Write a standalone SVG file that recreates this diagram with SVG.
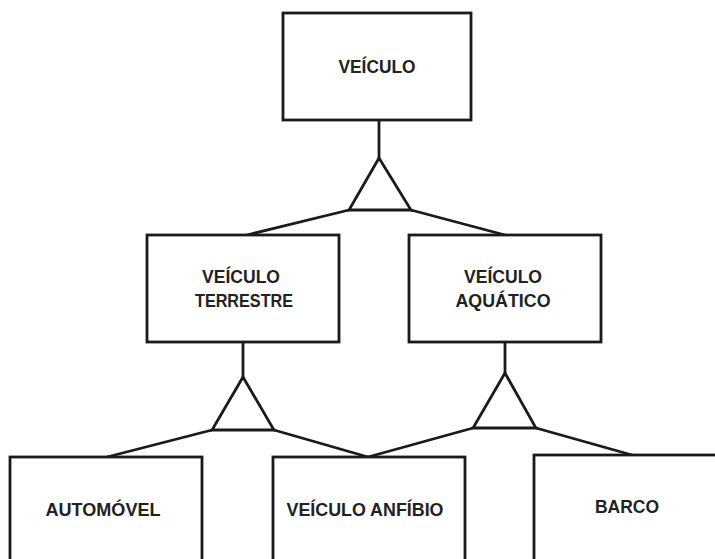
<svg xmlns="http://www.w3.org/2000/svg" width="715" height="559" viewBox="0 0 715 559">
<style>
.box{fill:#fff;stroke:#1a1a1a;stroke-width:2.8}
.ln{fill:none;stroke:#1a1a1a;stroke-width:2.8;stroke-linejoin:miter}
.t{font-family:"Liberation Sans",Arial,sans-serif;font-weight:bold;font-size:18px;fill:#222;text-anchor:middle}
</style>
<rect width="715" height="559" fill="#fff"/>
<g id="connectors">
<line class="ln" x1="379" y1="120" x2="379" y2="158"/>
<polygon class="ln" points="379,158 349,210 411,210"/>
<line class="ln" x1="349" y1="210" x2="247" y2="235"/>
<line class="ln" x1="411" y1="210" x2="505" y2="235"/>
<line class="ln" x1="243" y1="342" x2="243" y2="377"/>
<polygon class="ln" points="243,377 212,430 274,430"/>
<line class="ln" x1="212" y1="430" x2="107" y2="457"/>
<line class="ln" x1="274" y1="430" x2="368" y2="457"/>
<line class="ln" x1="505" y1="342" x2="505" y2="373"/>
<polygon class="ln" points="505,373 473,428 536,428"/>
<line class="ln" x1="473" y1="428" x2="368" y2="457"/>
<line class="ln" x1="536" y1="428" x2="632" y2="455"/>
</g>
<g id="veiculo">
<rect class="box" x="283" y="13" width="188" height="107"/>
<text class="t" x="377" y="73" textLength="77" lengthAdjust="spacingAndGlyphs">VEÍCULO</text>
</g>
<g id="terrestre">
<rect class="box" x="147" y="235" width="192" height="107"/>
<text class="t" x="241" y="283" textLength="78" lengthAdjust="spacingAndGlyphs">VEÍCULO</text>
<text class="t" x="244" y="307" textLength="98" lengthAdjust="spacingAndGlyphs">TERRESTRE</text>
</g>
<g id="aquatico">
<rect class="box" x="409" y="235" width="192" height="107"/>
<text class="t" x="503" y="283" textLength="78" lengthAdjust="spacingAndGlyphs">VEÍCULO</text>
<text class="t" x="503" y="307" textLength="95" lengthAdjust="spacingAndGlyphs">AQUÁTICO</text>
</g>
<g id="automovel">
<rect class="box" x="10" y="457" width="192" height="110"/>
<text class="t" x="103" y="516" textLength="115" lengthAdjust="spacingAndGlyphs">AUTOMÓVEL</text>
</g>
<g id="anfibio">
<rect class="box" x="273" y="457" width="192" height="110"/>
<text class="t" x="365" y="516" textLength="157" lengthAdjust="spacingAndGlyphs">VEÍCULO ANFÍBIO</text>
</g>
<g id="barco">
<rect class="box" x="534" y="455" width="200" height="112"/>
<text class="t" x="627" y="513" textLength="64" lengthAdjust="spacingAndGlyphs">BARCO</text>
</g>
</svg>
